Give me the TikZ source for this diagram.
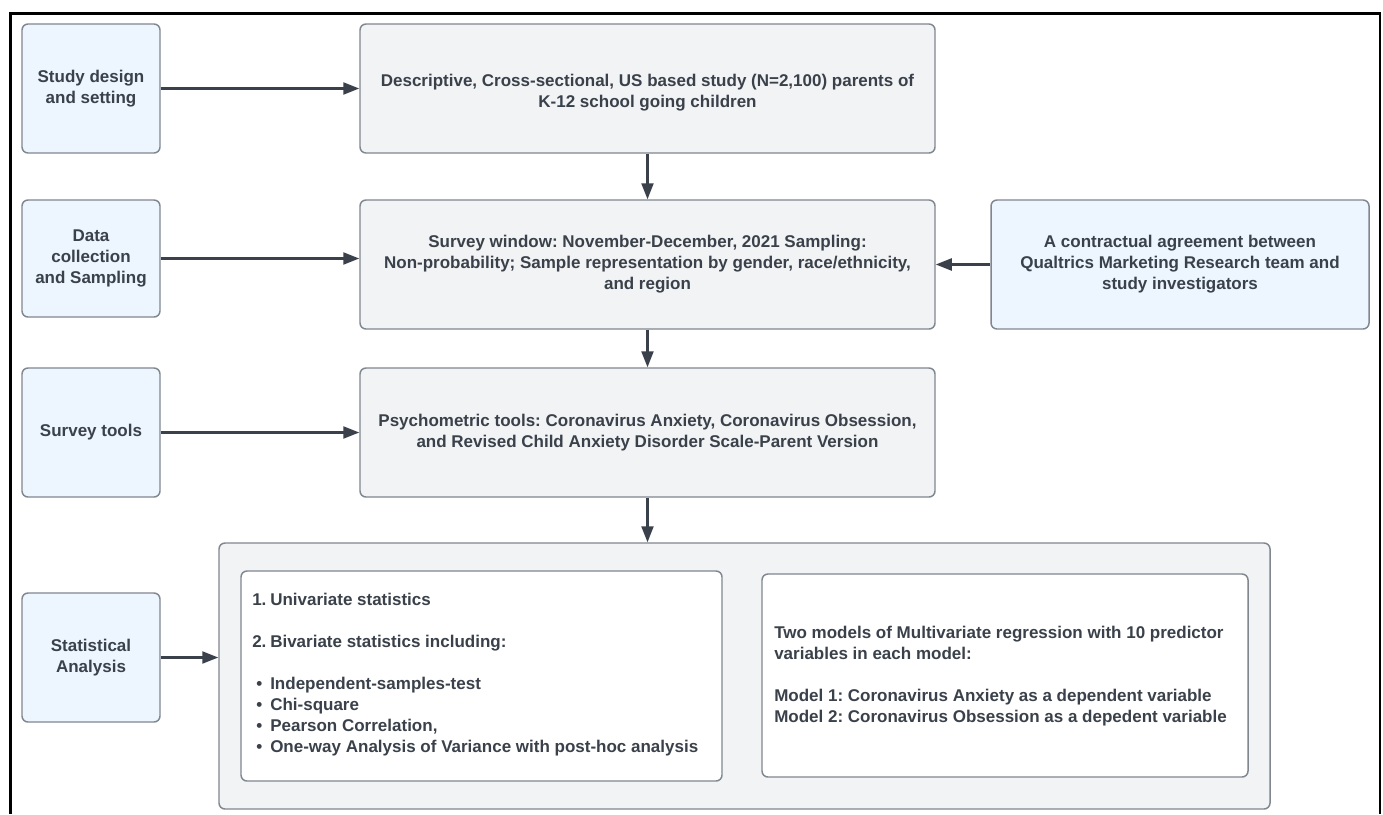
\documentclass[tikz,border=0pt]{standalone}
\usepackage{fontspec}
\setmainfont{Liberation Sans}
\usetikzlibrary{arrows.meta}
\definecolor{ink}{HTML}{3A414A}
\definecolor{bluefill}{HTML}{EDF5FF}
\definecolor{greyfill}{HTML}{F2F3F5}
\definecolor{edge}{HTML}{80878F}
\frenchspacing
\begin{document}
\begin{tikzpicture}[x=0.75pt,y=-0.75pt,
  every node/.style={font=\bfseries\fontsize{12.75pt}{15.75pt}\selectfont, text=ink},
  box/.style={draw=edge, line width=1.1pt, rounded corners=4.5pt, align=center, inner sep=0pt},
  labelbox/.style={box, fill=bluefill, minimum width=103.5pt, minimum height=96.75pt},
  stepbox/.style={box, fill=greyfill, minimum width=431.25pt, minimum height=96.75pt},
  panel/.style={box, fill=white},
  listtext/.style={align=left, anchor=west, inner sep=0pt},
  flow/.style={draw=ink, line width=1.6pt, -{Triangle[length=12pt,width=9pt]}},
]
\useasboundingbox (0,0) rectangle (1383,814);
\fill[white] (0,0) rectangle (1383,814);
% outer frame (open at the bottom)
\draw[line width=2pt, black] (10.5,814) -- (10.5,13.5) -- (1380,13.5) -- (1380,814);

% stage labels on the left
\node[labelbox] (sd) at (91,88.5) {Study design\\and setting};
\node[labelbox, minimum height=87.75pt] (dc) at (91,258.5) {Data\\collection\\and Sampling};
\node[labelbox] (st) at (91,432.5) {Survey tools};
\node[labelbox] (sa) at (91,657.5) {Statistical\\Analysis};

% main steps
\node[stepbox] (desc) at (647.5,88.5) {\mbox{}\\Descriptive, Cross-sectional, US based study (N=2,100) parents of\\K-12 school going children};
\node[stepbox] (sw) at (647.5,264.5) {Survey window: November-December, 2021 Sampling:\\Non-probability; Sample representation by gender, race/ethnicity,\\and region};
\node[box, fill=bluefill, minimum width=283.5pt, minimum height=96.75pt] (qa) at (1180,264.5) {A contractual agreement between\\Qualtrics Marketing Research team and\\study investigators};
\node[stepbox] (psy) at (647.5,432.5) {Psychometric tools: Coronavirus Anxiety, Coronavirus Obsession,\\and Revised Child Anxiety Disorder Scale-Parent Version};

% analysis panel
\node[box, fill=greyfill, minimum width=788.25pt, minimum height=199.5pt] (outer) at (744.5,676) {};
\node[panel, minimum width=360.75pt, minimum height=157.5pt] (inl) at (481.5,676) {};
\node[panel, minimum width=364.5pt, minimum height=152.25pt] (inr) at (1005,675.5) {};

\node[listtext] (uni) at (252,675) {%
\makebox[13.5pt][l]{1.}Univariate statistics\\[15.75pt]
\makebox[13.5pt][l]{2.}Bivariate statistics including:\\[15.75pt]
\makebox[13.5pt][l]{\hspace{3pt}\textbullet}Independent-samples-test\\
\makebox[13.5pt][l]{\hspace{3pt}\textbullet}Chi-square\\
\makebox[13.5pt][l]{\hspace{3pt}\textbullet}Pearson Correlation,\\
\makebox[13.5pt][l]{\hspace{3pt}\textbullet}One-way Analysis of Variance with post-hoc analysis};

\node[listtext] (multi) at (774,676) {%
Two models of Multivariate regression with 10 predictor\\
variables in each model:\\[15.75pt]
Model 1: Coronavirus Anxiety as a dependent variable\\
Model 2: Coronavirus Obsession as a depedent variable};

% connectors
\draw[flow] (sd.east) -- (sd.east -| desc.west);
\draw[flow] (dc.east) -- (dc.east -| sw.west);
\draw[flow] (qa.west) -- (qa.west -| sw.east);
\draw[flow] (st.east) -- (st.east -| psy.west);
\draw[flow] (sa.east) -- (sa.east -| outer.west);
\draw[flow] (desc.south) -- (sw.north);
\draw[flow] (sw.south) -- (psy.north);
\draw[flow] (psy.south) -- (psy.south |- outer.north);
\end{tikzpicture}
\end{document}
